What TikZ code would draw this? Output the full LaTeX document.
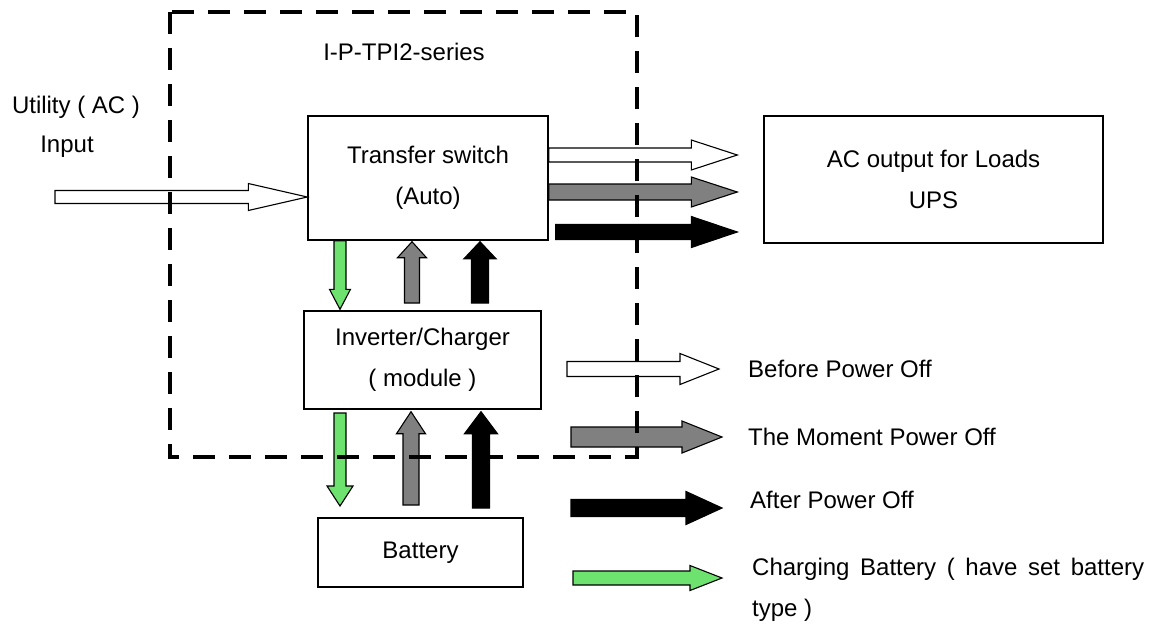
\documentclass[tikz,border=0pt]{standalone}
\usepackage{fontspec}
\setmainfont{Liberation Sans}
\usetikzlibrary{calc}
\definecolor{chggreen}{RGB}{110,226,110}
\definecolor{pgray}{RGB}{128,128,128}

\begin{document}
\begin{tikzpicture}[x=1pt,y=-1pt,
	every node/.style={font=\fontsize{24}{41}\selectfont,inner sep=0pt},
	box/.style={draw,line width=1.4pt,align=center},
	hollow/.style={draw,line width=1.1pt,fill=white},
	moment/.style={draw,line width=1.1pt,fill=pgray},
	after/.style={draw,line width=1.1pt,fill=black},
	charging/.style={draw,line width=1.1pt,fill=chggreen}]

\useasboundingbox (0,0) rectangle (1151,630);

% block arrow: style, tail, tip, half shaft, half head, head length
\def\powarrow#1#2#3#4#5#6{%
	\coordinate (hb) at ($(#3)!#6!(#2)$);
	\draw[#1] ($(#2)!#4!90:(#3)$) -- ($(hb)!#4!90:(#3)$) -- ($(hb)!#5!90:(#3)$) -- (#3)
		-- ($(hb)!#5!-90:(#3)$) -- ($(hb)!#4!-90:(#3)$) -- ($(#2)!#4!-90:(#3)$) -- cycle;
}

\node[box,minimum width=240pt,minimum height=124pt] (ts) at (428,178) {Transfer switch\\(Auto)};
\node[box,minimum width=237pt,minimum height=98pt] (inv) at (422.5,360) {Inverter/Charger\\( module )};
\node[box,minimum width=205pt,minimum height=69pt] (bat) at (420.5,552.5) {Battery};
\node[box,minimum width=339pt,minimum height=127pt] (ac) at (933.5,179.5) {AC output for Loads\\UPS};

\node (series) at (404,52) {I-P-TPI2-series};
\node (util) at (76,107) {Utility ( AC )};
\node (inp) at (67,147) {Input};

% utility input
\coordinate (uin) at (55,197);
\coordinate (uout) at (ts.west |- uin);
\powarrow{hollow}{uin}{uout}{6.5pt}{13.5pt}{59pt}

% outputs to the loads
\coordinate (w1) at (ts.east |- 0,155);
\coordinate (w2) at ([xshift=-26pt]ac.west |- w1);
\coordinate (m1) at (ts.east |- 0,192);
\coordinate (m2) at ([xshift=-26pt]ac.west |- m1);
\coordinate (a1) at ([xshift=7pt]ts.east |- 0,232);
\coordinate (a2) at ([xshift=-26pt]ac.west |- a1);
\powarrow{hollow}{w1}{w2}{7pt}{15pt}{46pt}
\powarrow{moment}{m1}{m2}{8pt}{15pt}{46pt}
\powarrow{after}{a1}{a2}{7.5pt}{15.5pt}{46pt}

% transfer switch <-> inverter
\coordinate (g1) at (ts.south -| 340,0);
\coordinate (g2) at ([yshift=1pt]inv.north -| 340,0);
\coordinate (m3) at (412,303);
\coordinate (m4) at ([yshift=-1pt]ts.south -| m3);
\coordinate (a3) at (480,303);
\coordinate (a4) at ([yshift=-1pt]ts.south -| a3);
\powarrow{charging}{g1}{g2}{6pt}{10.5pt}{20pt}
\powarrow{moment}{m3}{m4}{7.5pt}{14.5pt}{16pt}
\powarrow{after}{a3}{a4}{8.5pt}{16pt}{17pt}

% inverter <-> battery
\coordinate (g3) at (340,413);
\coordinate (g4) at (340,506);
\coordinate (m5) at (411,505);
\coordinate (m6) at ([yshift=-2pt]inv.south -| m5);
\coordinate (a5) at (481,508);
\coordinate (a6) at ([yshift=-2pt]inv.south -| a5);
\powarrow{charging}{g3}{g4}{6pt}{13pt}{20pt}
\powarrow{moment}{m5}{m6}{8pt}{14.5pt}{22pt}
\powarrow{after}{a5}{a6}{8.5pt}{16.5pt}{22pt}

% legend
\coordinate (l1) at (567,369);
\coordinate (l2) at (719,369);
\coordinate (l3) at (571,437);
\coordinate (l4) at (722,437);
\coordinate (l5) at (571,508);
\coordinate (l6) at (722,508);
\coordinate (l7) at (573,578);
\coordinate (l8) at (722,578);
\powarrow{hollow}{l1}{l2}{7.5pt}{15.5pt}{39pt}
\powarrow{moment}{l3}{l4}{10pt}{16pt}{40pt}
\powarrow{after}{l5}{l6}{8.5pt}{16.5pt}{36pt}
\powarrow{charging}{l7}{l8}{7pt}{12.5pt}{32pt}

\node[anchor=west] (before) at (748,369) {Before Power Off};
\node[anchor=west] (moment) at (748,437) {The Moment Power Off};
\node[anchor=west] (afteroff) at (750,500) {After Power Off};
\node[anchor=west,text width=392pt,align=justify] (charge) at (752,590)
	{Charging Battery ( have set battery type )};

% the unit
\draw[line width=3.5pt,dash pattern=on 22pt off 14pt] (170,12) rectangle (637,457);

\end{tikzpicture}
\end{document}
